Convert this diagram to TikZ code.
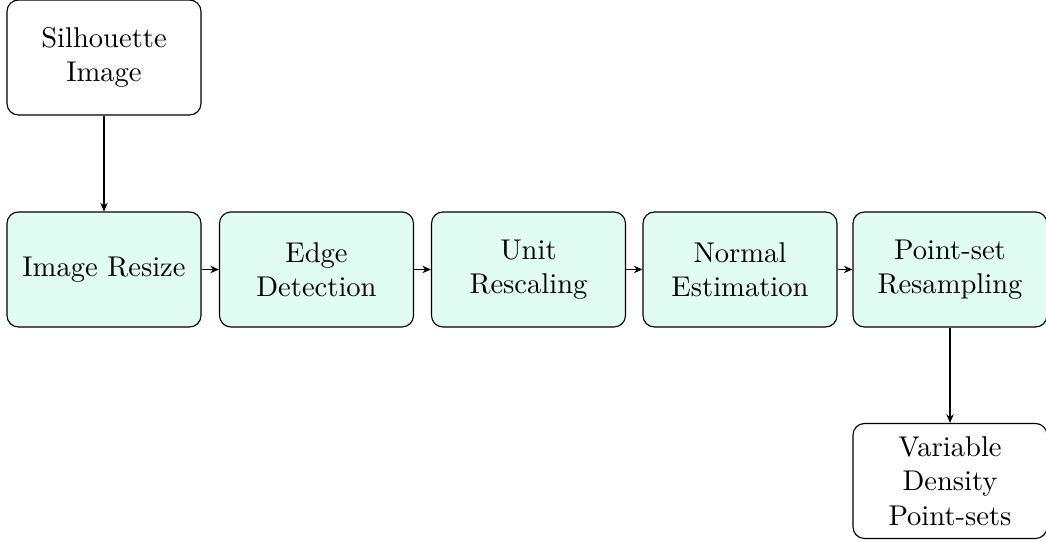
\documentclass[tikz,border=0pt]{standalone}
\usetikzlibrary{arrows.meta}
\definecolor{stagefill}{RGB}{224,252,243}
\tikzset{
  box/.style={draw=black, line width=0.4pt, rounded corners=4pt,
    minimum width=67.9pt, minimum height=40.25pt, align=center,
    inner sep=2pt},
  stage/.style={box, fill=stagefill},
  flow/.style={draw, line width=0.4pt, -{Stealth[length=3pt,width=2.6pt]}}
}
\begin{document}
\begin{tikzpicture}[x=0.35pt, y=-0.35pt]
  \useasboundingbox (0,0) rectangle (1046,542);
  \node[box]   (sil)  at (104,57.5)   {Silhouette\\Image};
  \node[stage] (res)  at (104,269.5)  {Image Resize};
  \node[stage] (edge) at (316.5,269.5) {Edge\\Detection};
  \node[stage] (unit) at (528.5,269.5) {Unit\\Rescaling};
  \node[stage] (norm) at (740,269.5)  {Normal\\Estimation};
  \node[stage] (pset) at (950,269.5)  {Point-set\\Resampling};
  \node[box]   (out)  at (950,481)    {Variable\\Density\\Point-sets};
  \draw[flow] (sil) -- (res);
  \draw[flow] (res) -- (edge);
  \draw[flow] (edge) -- (unit);
  \draw[flow] (unit) -- (norm);
  \draw[flow] (norm) -- (pset);
  \draw[flow] (pset) -- (out);
\end{tikzpicture}
\end{document}
